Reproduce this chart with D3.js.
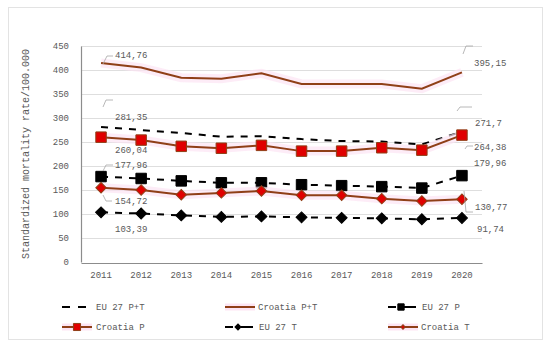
<html>
<head>
<script src="https://d3js.org/d3.v7.min.js"></script>
<style>
  body { margin: 0; background: #fff; }
  text { font-family: "Liberation Mono", "DejaVu Sans Mono", monospace; fill: #595959; }
</style>
</head>
<body>
<svg id="chart" width="550" height="348"></svg>
<script>
var years = ["2011", "2012", "2013", "2014", "2015", "2016", "2017", "2018", "2019", "2020"];
var yTicks = [0, 50, 100, 150, 200, 250, 300, 350, 400, 450];
var eu27PT = [281.35, 275, 269, 261, 262, 256, 252, 251, 245, 271.7];
var croatiaPT = [414.76, 405, 384, 382, 393, 371, 371, 371, 361, 395.15];
var eu27P = [177.96, 174, 169, 165, 165, 161, 159, 157, 154, 179.96];
var croatiaP = [260.04, 254, 241, 237, 243, 231, 231, 238, 233, 264.38];
var eu27T = [103.39, 101, 97, 94, 95, 93, 92, 91, 89, 91.74];
var croatiaT = [154.72, 150, 140, 144, 148, 139, 139, 132, 127, 130.77];

var svg = d3.select("#chart");
var plotLeft = 81, plotRight = 482, plotTop = 46, plotBottom = 262;
var brown = "#8f3f17";

var x = d3.scaleBand().domain(years).range([plotLeft, plotRight]);
var y = d3.scaleLinear().domain([0, 450]).range([plotBottom, plotTop]);
var cx = function (i) { return x(years[i]) + x.bandwidth() / 2; };

// outer frame
svg.append("rect").attr("x", 8.5).attr("y", 7.5).attr("width", 534).attr("height", 332)
    .attr("fill", "none").attr("stroke", "#e3e3e3");

// grid
svg.append("g").selectAll("line").data(yTicks.slice(1)).enter().append("line")
    .attr("x1", plotLeft).attr("x2", plotRight)
    .attr("y1", function (d) { return y(d) + 0.5; }).attr("y2", function (d) { return y(d) + 0.5; })
    .attr("stroke", "#dedede");

// axes
var yAxis = svg.append("g").attr("transform", "translate(" + plotLeft + ",0)")
    .call(d3.axisLeft(y).tickValues(yTicks).tickSize(0).tickPadding(12));
yAxis.select(".domain").attr("stroke", "#8c8c8c").attr("stroke-width", 1.2);
yAxis.selectAll("text").attr("font-size", 9).style("font-family", "Liberation Mono, monospace").attr("fill", "#595959");

var xAxis = svg.append("g").attr("transform", "translate(0," + (plotBottom + 1) + ")")
    .call(d3.axisBottom(x).tickSize(0).tickPadding(9));
xAxis.select(".domain").attr("stroke", "#8c8c8c").attr("stroke-width", 1.2);
xAxis.selectAll("text").attr("font-size", 9).style("font-family", "Liberation Mono, monospace").attr("fill", "#595959");

svg.append("text")
    .attr("transform", "translate(29," + ((plotTop + plotBottom) / 2) + ") rotate(-90)")
    .attr("text-anchor", "middle").attr("font-size", 10)
    .text("Standardized mortality rate/100.000");

var line = d3.line().x(function (d, i) { return cx(i); }).y(function (d) { return y(d); });

function series(data, color, dashed, marker, mSize, mFill, halo) {
    var g = svg.append("g");
    if (halo) {
        g.append("path").datum(data).attr("d", line).attr("fill", "none")
            .attr("stroke", "#fce4f3").attr("stroke-width", 9).attr("opacity", 0.7);
    }
    g.append("path").datum(data).attr("d", line).attr("fill", "none")
        .attr("stroke", color).attr("stroke-width", 2)
        .attr("stroke-dasharray", dashed ? "7,7" : null);
    if (marker) {
        g.selectAll("path.m").data(data).enter().append("path").attr("class", "m")
            .attr("d", d3.symbol().type(d3.symbolSquare).size(mSize))
            .attr("transform", function (d, i) {
                return "translate(" + cx(i) + "," + y(d) + ")" + (marker === "square" ? "" : " rotate(45)");
            })
            .attr("fill", mFill).attr("stroke", color === "#000" ? "#000" : brown).attr("stroke-width", 1);
    }
}

series(croatiaPT, brown, false, null, 0, null, true);
series(eu27PT, "#000", true, null);
series(croatiaP, brown, false, "square", 110, "#e00000", true);
series(eu27P, "#000", true, "square", 110, "#000");
series(croatiaT, brown, false, "diamond", 55, "#e00000", true);
series(eu27T, "#000", true, "diamond", 60, "#000");

// data labels with leader lines
var labels = [
    { t: "414,76", lx: 115, ly: 58, l: [[103, 64], [107, 56], [113, 56]] },
    { t: "281,35", lx: 115, ly: 120, l: [[103, 107], [106, 100], [113, 100]] },
    { t: "260,04", lx: 115, ly: 153, l: null },
    { t: "177,96", lx: 115, ly: 168, l: [[103, 171], [106, 165], [113, 165]] },
    { t: "154,72", lx: 115, ly: 204, l: [[103, 195], [106, 201], [112, 201]] },
    { t: "103,39", lx: 115, ly: 232, l: null },
    { t: "395,15", lx: 474, ly: 66, l: [[463, 54], [466, 46], [473, 46]] },
    { t: "271,7", lx: 475, ly: 126, l: [[457, 111], [460, 107], [472, 107]] },
    { t: "264,38", lx: 474, ly: 150, l: [[465, 149], [467, 146], [473, 146]] },
    { t: "179,96", lx: 474, ly: 166, l: null },
    { t: "130,77", lx: 475, ly: 210, l: [[464, 191], [466, 212], [473, 212]] },
    { t: "91,74", lx: 477, ly: 232, l: null }
];
labels.forEach(function (d) {
    if (d.l) {
        svg.append("path").attr("d", d3.line()(d.l)).attr("fill", "none")
            .attr("stroke", "#a6a6a6").attr("stroke-width", 0.8);
    }
    svg.append("text").attr("x", d.lx).attr("y", d.ly).attr("font-size", 9).text(d.t);
});

// legend
var legend = [
    { name: "EU 27 P+T", col: 0, row: 0, color: "#000", dashed: true, marker: null },
    { name: "Croatia P+T", col: 1, row: 0, color: brown, dashed: false, marker: null },
    { name: "EU 27 P", col: 2, row: 0, color: "#000", dashed: true, marker: "square" },
    { name: "Croatia P", col: 0, row: 1, color: brown, dashed: false, marker: "square" },
    { name: "EU 27 T", col: 1, row: 1, color: "#000", dashed: true, marker: "diamond" },
    { name: "Croatia T", col: 2, row: 1, color: brown, dashed: false, marker: "diamond" }
];
var colX = [62, 225, 388], rowY = [307, 327];
legend.forEach(function (d) {
    var x0 = colX[d.col], yy = rowY[d.row];
    var g = svg.append("g");
    if (d.dashed) {
        g.append("line").attr("x1", x0).attr("x2", x0 + 8).attr("y1", yy).attr("y2", yy)
            .attr("stroke", "#000").attr("stroke-width", 2);
        g.append("line").attr("x1", x0 + 16).attr("x2", x0 + (d.marker ? 28 : 24)).attr("y1", yy).attr("y2", yy)
            .attr("stroke", "#000").attr("stroke-width", 2);
    } else {
        g.append("line").attr("x1", x0).attr("x2", x0 + 30).attr("y1", yy).attr("y2", yy)
            .attr("stroke", "#fce4f3").attr("stroke-width", 7);
        g.append("line").attr("x1", x0).attr("x2", x0 + 30).attr("y1", yy).attr("y2", yy)
            .attr("stroke", d.color).attr("stroke-width", 2);
    }
    if (d.marker) {
        var mx = d.dashed ? x0 + 13 : x0 + 15;
        var isRed = d.color !== "#000";
        g.append("path")
            .attr("d", d3.symbol().type(d3.symbolSquare).size(d.marker === "square" ? (isRed ? 50 : 40) : (isRed ? 10 : 18))())
            .attr("transform", "translate(" + mx + "," + yy + ")" + (d.marker === "diamond" ? " rotate(45)" : ""))
            .attr("fill", isRed ? "#e00000" : "#000").attr("stroke", isRed ? brown : "#000");
    }
    g.append("text").attr("x", d.dashed || d.col === 0 ? x0 + 34 : x0 + 33).attr("y", yy + 3)
        .attr("font-size", 9).text(d.name);
});
</script>
</body>
</html>
